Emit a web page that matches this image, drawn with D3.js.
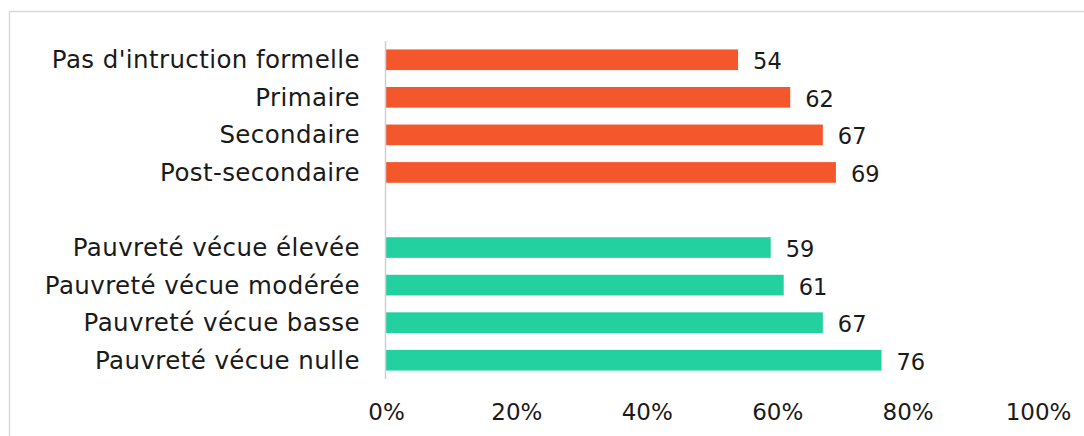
<!DOCTYPE html>
<html>
<head>
<meta charset="utf-8">
<script src="https://cdn.jsdelivr.net/npm/d3@7/dist/d3.min.js"></script>
<style>
  html, body { margin: 0; padding: 0; background: #ffffff; }
  svg { display: block; }
  text { font-family: "DejaVu Sans", sans-serif; fill: #1a1a1a; }
</style>
</head>
<body>
<svg id="chart" width="1084" height="436"></svg>
<script>
// Share (%) by level of education
const educationLevels = ["Pas d'intruction formelle", "Primaire", "Secondaire", "Post-secondaire"];
const educationValues = [54, 62, 67, 69];

// Share (%) by lived poverty
const povertyLevels = ["Pauvreté vécue élevée", "Pauvreté vécue modérée", "Pauvreté vécue basse", "Pauvreté vécue nulle"];
const povertyValues = [59, 61, 67, 76];

const xTickValues = [0, 20, 40, 60, 80, 100];
const xTickLabels = ["0%", "20%", "40%", "60%", "80%", "100%"];

const educationColor = "#F4572B";
const povertyColor = "#23D1A0";

const svg = d3.select("#chart");
const W = 1084, H = 436;

// light outer frame (runs off the right and bottom edges)
svg.append("rect")
  .attr("x", 9.5).attr("y", 11.5)
  .attr("width", W).attr("height", H)
  .attr("fill", "none")
  .attr("stroke", "#d9d9d9")
  .attr("stroke-width", 1.5);

const GAP = "\u0000gap";
const rows = [
  ...educationLevels.map((c, i) => ({ cat: c, value: educationValues[i], color: educationColor })),
  ...povertyLevels.map((c, i) => ({ cat: c, value: povertyValues[i], color: povertyColor }))
];
const domain = [...educationLevels, GAP, ...povertyLevels];

const x = d3.scaleLinear().domain([0, 100]).range([386, 1038]);
const y = d3.scaleBand().domain(domain).range([41, 379]).paddingInner(0.45).paddingOuter(0.225);

// bars
svg.append("g").selectAll("rect")
  .data(rows)
  .join("rect")
  .attr("x", x(0))
  .attr("y", d => y(d.cat))
  .attr("width", d => x(d.value) - x(0))
  .attr("height", y.bandwidth())
  .attr("fill", d => d.color);

// category axis line
svg.append("line")
  .attr("x1", x(0) - 0.5).attr("x2", x(0) - 0.5)
  .attr("y1", 41).attr("y2", 379)
  .attr("stroke", "#d0d0d0")
  .attr("stroke-width", 1.5);

// category labels
svg.append("g").selectAll("text")
  .data(rows)
  .join("text")
  .attr("x", 360)
  .attr("y", d => y(d.cat) + y.bandwidth() / 2 + 8.5)
  .attr("text-anchor", "end")
  .attr("font-size", 24.5)
  .attr("letter-spacing", 0.4)
  .text(d => d.cat);

// value labels
svg.append("g").selectAll("text")
  .data(rows)
  .join("text")
  .attr("x", d => x(d.value) + 15)
  .attr("y", d => y(d.cat) + y.bandwidth() / 2 + 9.5)
  .attr("font-size", 22.5)
  .text(d => d.value);

// x axis labels (no axis line or ticks drawn)
const xAxis = d3.axisBottom(x)
  .tickValues(xTickValues)
  .tickFormat((d, i) => xTickLabels[i])
  .tickSize(0)
  .tickPadding(0);
const gx = svg.append("g").attr("transform", "translate(0,404)").call(xAxis);
gx.select(".domain").remove();
gx.selectAll("text")
  .attr("font-size", 23)
  .attr("dy", "0.71em")
  .style("font-family", "DejaVu Sans, sans-serif")
  .attr("fill", "#1a1a1a");
</script>
</body>
</html>
